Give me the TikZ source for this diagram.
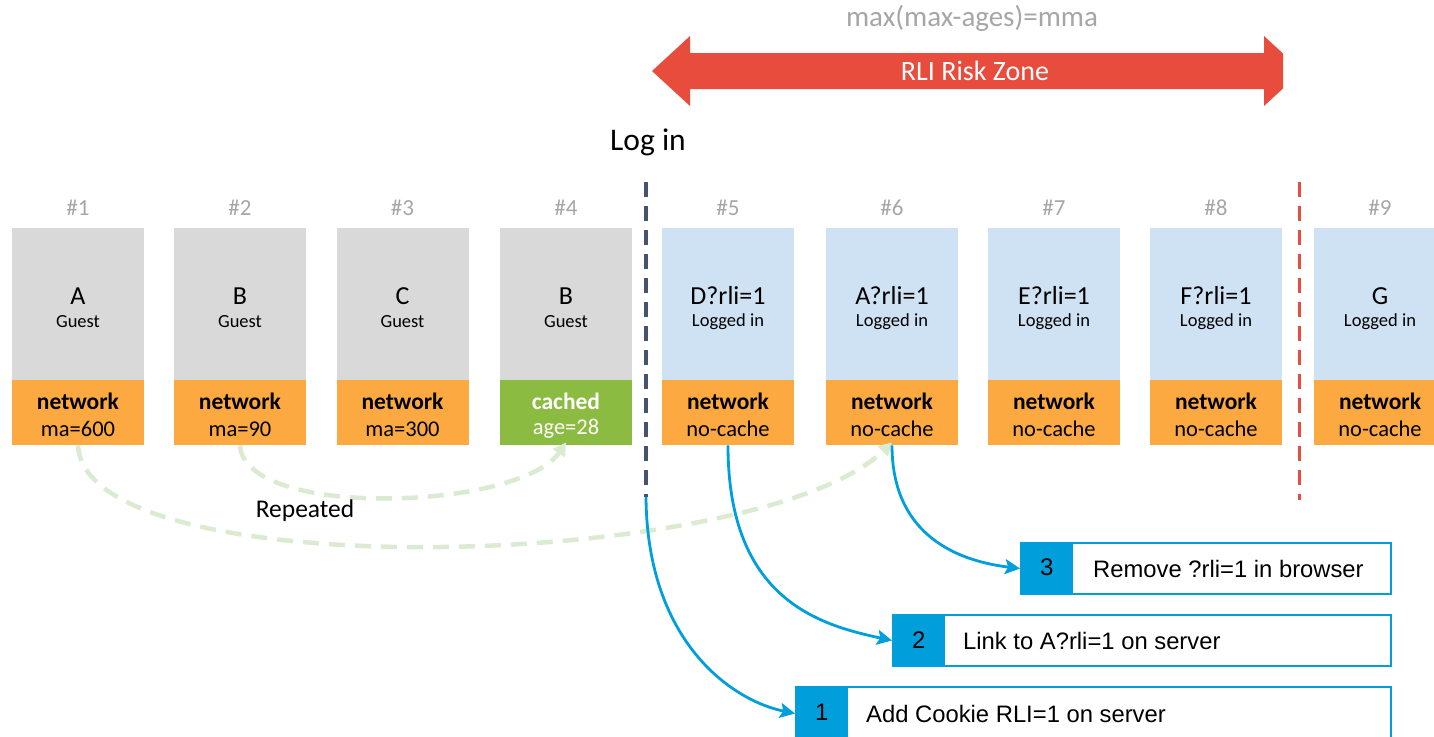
\documentclass[tikz,border=0pt]{standalone}
\usepackage{fontspec}
\setmainfont{Carlito}
\newfontfamily\arialfont{Liberation Sans}
\usetikzlibrary{arrows.meta}
\definecolor{boxgray}{RGB}{217,217,217}
\definecolor{boxblue}{RGB}{207,226,243}
\definecolor{boxorange}{RGB}{251,169,64}
\definecolor{boxgreen}{RGB}{139,187,64}
\definecolor{riskred}{RGB}{231,76,60}
\definecolor{labgray}{RGB}{166,166,166}
\definecolor{slate}{RGB}{68,84,106}
\definecolor{callblue}{RGB}{0,158,219}
\definecolor{paleg}{RGB}{218,235,210}
\newcommand{\setfs}[1]{\fontsize{#1}{#1}\selectfont}
\begin{document}
\begin{tikzpicture}[x=1pt,y=-1pt,
  topbox/.style={minimum width=132pt,minimum height=152pt,inner sep=0pt,anchor=north,draw=none},
  botbox/.style={minimum width=132pt,minimum height=65pt,inner sep=0pt,anchor=north,draw=none},
  txt/.style={inner sep=0pt,anchor=center},
  callout/.style={draw=callblue,line width=2pt,fill=white,inner sep=0pt,anchor=north west,minimum height=51pt},
  numsq/.style={fill=callblue,inner sep=0pt,anchor=north west,minimum width=53pt,minimum height=51pt,font=\arialfont\setfs{24}},
  calltxt/.style={inner sep=0pt,anchor=west,font=\arialfont\setfs{23.8}},
  bluearrow/.style={draw=callblue,line width=2.8pt,-{Stealth[length=15pt,width=15pt,inset=3pt]}},
  greenarrow/.style={draw=paleg,line width=4.5pt,dash pattern=on 16pt off 10pt,-{Triangle[length=13pt,width=14pt]}},
  divider/.style={line width=3.5pt,dash pattern=on 15pt off 9pt}
]
\clip (0,0) rectangle (1434,736);
\useasboundingbox (0,0) rectangle (1434,736);

% risk zone arrow
\fill[riskred] (652,71) -- (690,36) -- (690,53) -- (1264,53) -- (1264,36) -- (1283,53.5)
  -- (1283,88.5) -- (1264,106) -- (1264,89) -- (690,89) -- (690,106) -- cycle;
\node[txt,text=labgray,font=\setfs{29}] (mma) at (972,18) {max(max-ages)=mma};
\node[txt,text=white,font=\setfs{28}] (risk) at (975,71) {RLI Risk Zone};

\node[txt,font=\setfs{31.5}] (login) at (648,142) {Log in};

% boxes
\foreach \i/\cx/\main/\sub/\tc/\bc/\la/\lb/\lc in {
  1/78/A/Guest/boxgray/boxorange/network/ma=600/black,
  2/240/B/Guest/boxgray/boxorange/network/ma=90/black,
  3/402.5/C/Guest/boxgray/boxorange/network/ma=300/black,
  4/566/B/Guest/boxgray/boxgreen/cached/age=28/white,
  5/728/D?rli=1/Logged in/boxblue/boxorange/network/no-cache/black,
  6/892/A?rli=1/Logged in/boxblue/boxorange/network/no-cache/black,
  7/1054/E?rli=1/Logged in/boxblue/boxorange/network/no-cache/black,
  8/1216/F?rli=1/Logged in/boxblue/boxorange/network/no-cache/black,
  9/1380/G/Logged in/boxblue/boxorange/network/no-cache/black}{
  \node[topbox,fill=\tc] (top\i) at (\cx,228) {};
  \node[botbox,fill=\bc] (bot\i) at (\cx,380) {};
  \node[txt,text=labgray,font=\setfs{23}] (num\i) at (\cx,208) {\#\i};
  \node[txt,font=\setfs{26}] (main\i) at (\cx,296) {\main};
  \node[txt,font=\setfs{18.5}] (sub\i) at (\cx,322) {\sub};
  \node[txt,text=\lc,font=\bfseries\setfs{23.5}] (la\i) at (\cx,401) {\la};
  \node[txt,text=\lc,font=\setfs{22.5}] (lb\i) at (\cx,429) {\lb};
}

% dividers
\coordinate (ltop) at (646,182);
\coordinate (lbot) at (646,497);
\draw[divider,draw=slate] (ltop) -- (lbot);
\coordinate (rtop) at (1299,182);
\coordinate (rbot) at (1299,500);
\draw[divider,draw=riskred,line width=3pt] (rtop) -- (rbot);

% repeated curves
\draw[greenarrow] (bot2.south) .. controls (245,520) and (520,510) .. ([yshift=3pt]bot4.south);
\draw[greenarrow] (bot1.south) .. controls (85,590) and (760,570) .. ([yshift=3pt]bot6.south);
\node[txt,font=\setfs{25.5}] (rep) at (305,511) {Repeated};

% callouts
\node[callout,minimum width=370pt] (c3) at (1020,542) {};
\node[numsq] (n3) at (1020,542) {3};
\node[calltxt] (t3) at (1093,569) {Remove ?rli=1 in browser};

\node[callout,minimum width=498pt] (c2) at (892,614) {};
\node[numsq] (n2) at (892,614) {2};
\node[calltxt] (t2) at (963,641) {Link to A?rli=1 on server};

\node[callout,minimum width=595pt,minimum height=53pt] (c1) at (795,686) {};
\node[numsq,minimum height=53pt] (n1) at (795,686) {1};
\node[calltxt] (t1) at (866,714) {Add Cookie RLI=1 on server};

% blue arrows
\draw[bluearrow] (bot5.south) .. controls (728,600) and (820,625) .. (c2.west);
\draw[bluearrow] (bot6.south) .. controls (892,530) and (950,560) .. (c3.west);
\draw[bluearrow] (lbot) .. controls (647,640) and (730,700) .. (c1.west);
\end{tikzpicture}
\end{document}
